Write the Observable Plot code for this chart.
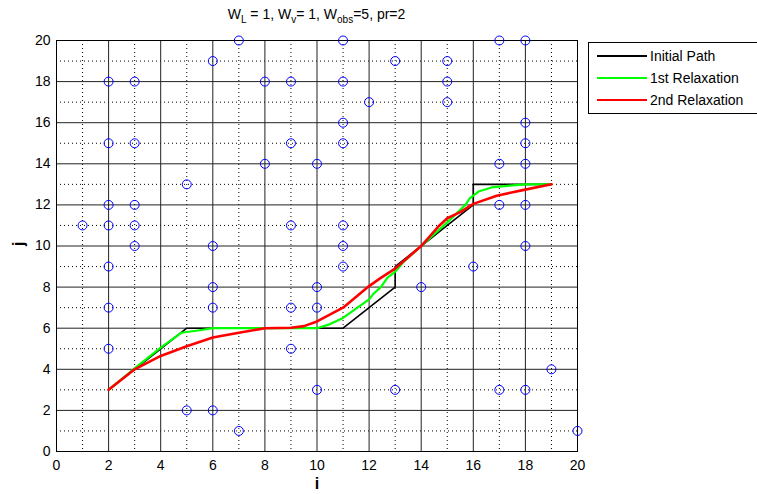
<!DOCTYPE html>
<html>
<head>
<meta charset="utf-8">
<script src="https://cdn.jsdelivr.net/npm/d3@7"></script>
<script src="https://cdn.jsdelivr.net/npm/@observablehq/plot@0.6"></script>
<style>
  html, body { margin: 0; padding: 0; background: white; }
</style>
</head>
<body>
<div id="chart"></div>
<script>
// Obstacles (blue circles)
const obsI = [1,2,2,2,2,2,2,2,3,3,3,3,3,5,5,6,6,6,6,6,7,7,8,8,9,9,9,9,9,10,10,10,10,11,11,11,11,11,11,11,12,13,13,14,15,15,15,16,17,17,17,17,18,18,18,18,18,18,18,19,20];
const obsJ = [11,5,7,9,11,12,15,18,10,11,12,15,18,2,13,2,7,8,10,19,1,20,14,18,5,7,11,15,18,3,7,8,14,9,10,11,15,16,18,20,17,3,19,8,17,18,19,9,3,12,14,20,3,10,12,14,15,16,20,4,1];

// Initial path (black)
const initI = [2,3,4,5,6,7,8,9,10,11,12,13,13,14,15,16,16,17,18,19];
const initJ = [3,4,5,6,6,6,6,6,6,6,7,8,9,10,11,12,13,13,13,13];

// 1st relaxation (green)
const relax1I = [2,3,4,4.8,5.5,6,7,8,9,10,10.5,11,12,12.15,12.45,12.7,13,13.3,14,15,15.7,15.85,16.2,16.7,17.5,18,19];
const relax1J = [3,4.05,5.05,5.78,5.9,6,6,6,6,6,6.2,6.5,7.4,7.65,8.0,8.45,8.75,9.2,10,11.15,12.0,12.3,12.65,12.85,12.95,13,13];

// 2nd relaxation (red)
const relax2I = [2,3,4,5,6,7,8,9,9.5,10,11,12,12.45,13,14,14.7,15,15.5,16,16.9,17.9,19];
const relax2J = [3,4,4.65,5.12,5.55,5.78,6,6.02,6.1,6.33,7.0,8.05,8.45,8.9,10,11.0,11.35,11.65,12.05,12.45,12.72,13];

const tickVals = [0,2,4,6,8,10,12,14,16,18,20];
const evenGrid = [2,4,6,8,10,12,14,16,18];
const oddGrid = [1,3,5,7,9,11,13,15,17,19];

const legendItems = ["Initial Path", "1st Relaxation", "2nd Relaxation"];
const legendColors = ["#000000", "#00ff00", "#ff0000"];

const svg = Plot.plot({
  width: 757,
  height: 494,
  marginLeft: 56,
  marginRight: 180,
  marginTop: 40,
  marginBottom: 43,
  style: { fontFamily: "Liberation Sans, Arial, sans-serif", fontSize: "14px", background: "white", color: "black" },
  x: { domain: [0, 20], ticks: tickVals, tickSize: 0, tickPadding: 9, label: null },
  y: { domain: [0, 20], ticks: tickVals, tickSize: 0, tickPadding: 6, label: null },
  marks: [
    Plot.ruleX(oddGrid, { stroke: "#000", strokeWidth: 1, strokeDasharray: "1,3" }),
    Plot.ruleY(oddGrid, { stroke: "#000", strokeWidth: 1, strokeDasharray: "1,3" }),
    Plot.ruleX(evenGrid, { stroke: "#222", strokeWidth: 1 }),
    Plot.ruleY(evenGrid, { stroke: "#222", strokeWidth: 1 }),
    Plot.frame({ stroke: "#000", strokeWidth: 1 }),
    Plot.line(initJ, { x: initI, y: initJ, stroke: "#000000", strokeWidth: 1.6 }),
    Plot.line(relax1J, { x: relax1I, y: relax1J, stroke: "#00ff00", strokeWidth: 2.2 }),
    Plot.line(relax2J, { x: relax2I, y: relax2J, stroke: "#ff0000", strokeWidth: 2.6 }),
    Plot.dot(obsJ, { x: obsI, y: obsJ, r: 4.5, stroke: "#0000ff", strokeWidth: 1, fill: "none" }),
    Plot.text(["i"], { frameAnchor: "bottom", dy: 37, fontWeight: "bold", fontSize: 16 }),
    Plot.text(["j"], { frameAnchor: "left", dx: -38, rotate: -90, fontWeight: "bold", fontSize: 16 })
  ]
});

const s = d3.select(svg);
// Title with subscripts
const title = s.append("text")
  .attr("x", 316.5).attr("y", 19)
  .attr("text-anchor", "middle")
  .style("font-family", "Liberation Sans, Arial, sans-serif")
  .style("font-size", "14px")
  .attr("fill", "black");
const parts = [["W", false], ["L", true], [" = 1, W", false], ["v", true], ["= 1, W", false], ["obs", true], ["=5, pr=2", false]];
let prevSub = false;
for (const [t, sub] of parts) {
  const ts = title.append("tspan").text(t);
  if (sub) { ts.attr("dy", 4).style("font-size", "10px"); }
  else if (prevSub) { ts.attr("dy", -4); }
  prevSub = sub;
}

// Legend
const lg = s.append("g");
lg.append("rect").attr("x", 588.5).attr("y", 42.5).attr("width", 180).attr("height", 71)
  .attr("fill", "white").attr("stroke", "black").attr("stroke-width", 1);
legendItems.forEach((name, k) => {
  const yy = 56 + k * 22;
  lg.append("line").attr("x1", 597).attr("x2", 647).attr("y1", yy).attr("y2", yy)
    .attr("stroke", legendColors[k]).attr("stroke-width", 2);
  lg.append("text").attr("x", 650).attr("y", yy).attr("dy", "0.35em")
    .attr("text-anchor", "start")
    .style("font-family", "Liberation Sans, Arial, sans-serif").style("font-size", "14px")
    .attr("fill", "black").text(name);
});

document.getElementById("chart").appendChild(svg);
</script>
</body>
</html>
